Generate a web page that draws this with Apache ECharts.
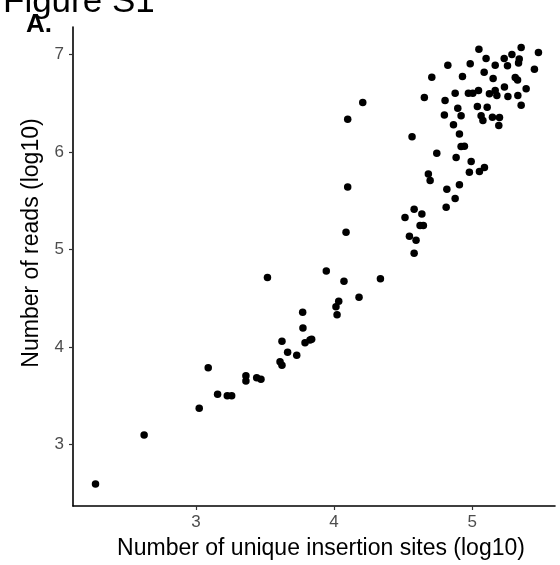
<!DOCTYPE html>
<html>
<head>
<meta charset="utf-8">
<script src="https://cdn.jsdelivr.net/npm/echarts@6/dist/echarts.min.js"></script>
<style>
html,body{margin:0;padding:0;background:#fff;}
#chart{width:560px;height:565px;}
</style>
</head>
<body>
<div id="chart"></div>
<script>
const xTicks = [3, 4, 5];
const yTicks = [3, 4, 5, 6, 7];
const xTitle = 'Number of unique insertion sites (log10)';
const yTitle = 'Number of reads (log10)';
const uniqueSitesLog10 = [2.273,2.625,3.024,3.089,3.157,3.227,3.259,3.362,3.362,3.440,3.471,3.518,3.609,3.623,3.623,3.664,3.730,3.773,3.775,3.790,3.826,3.838,3.944,4.014,4.022,4.034,4.072,4.181,4.336,4.087,4.099,4.099,4.208,4.514,4.546,4.580,4.594,4.580,4.636,4.623,4.647,4.565,4.683,4.696,4.744,4.812,4.817,4.877,4.908,4.980,5.053,5.089,4.993,4.884,4.920,4.944,4.908,4.865,4.799,4.920,4.896,4.804,4.654,4.708,4.824,4.930,4.986,4.877,4.973,5.005,5.046,5.038,5.065,5.078,5.109,5.125,5.167,5.179,5.147,5.198,5.193,5.087,5.152,5.049,5.101,5.167,5.232,5.288,5.256,5.234,5.259,5.331,5.355,5.336,5.341,5.355,5.312,5.329,5.391,5.451,5.480];
const readsLog10 = [2.595,3.097,3.371,3.788,3.515,3.501,3.501,3.706,3.651,3.685,3.669,4.713,3.849,3.812,4.058,3.946,3.915,4.356,4.195,4.044,4.072,4.079,4.779,4.413,4.331,4.469,4.674,4.510,4.700,5.176,5.641,6.335,6.506,5.326,5.135,5.412,5.094,4.961,5.364,5.244,5.244,6.154,5.774,5.706,5.987,5.433,5.617,5.521,5.662,5.792,5.798,5.839,5.901,5.942,6.054,6.058,6.182,6.277,6.379,6.369,6.448,6.526,6.557,6.766,6.889,6.772,6.903,6.602,6.602,6.602,6.629,6.465,6.369,6.321,6.458,6.595,6.629,6.577,6.356,6.352,6.270,6.817,6.752,7.053,6.957,6.889,6.957,6.998,6.882,6.664,6.567,6.577,6.479,6.910,6.951,7.070,6.762,6.738,6.646,6.848,7.018];

const points = uniqueSitesLog10.map((x, i) => [x, readsLog10[i]]);
const FONT = '"Liberation Sans", Arial, Helvetica, sans-serif';

const chart = echarts.init(document.getElementById('chart'), null, {renderer: 'canvas'});
chart.setOption({
  backgroundColor: '#ffffff',
  animation: false,
  grid: {left: 73, right: 5, top: 27, bottom: 59, containLabel: false},
  xAxis: {
    type: 'value', min: 2.11, max: 5.60,
    splitLine: {show: false},
    axisLine: {show: true, lineStyle: {color: '#000', width: 1.6}},
    axisTick: {show: true, length: 4, customValues: xTicks, lineStyle: {color: '#333', width: 1.2}},
    axisLabel: {customValues: xTicks, margin: 8, fontFamily: FONT, fontSize: 17, color: '#4d4d4d'}
  },
  yAxis: {
    type: 'value', min: 2.37, max: 7.28,
    splitLine: {show: false},
    axisLine: {show: true, lineStyle: {color: '#000', width: 1.6}},
    axisTick: {show: true, length: 4, customValues: yTicks, lineStyle: {color: '#333', width: 1.2}},
    axisLabel: {customValues: yTicks, margin: 9, fontFamily: FONT, fontSize: 17, color: '#4d4d4d'}
  },
  graphic: [
    {type: 'text', left: 3, top: -15, style: {text: 'Figure S1', font: '35px ' + FONT, fill: '#000'}},
    {type: 'text', left: 26, top: 12, style: {text: 'A.', font: 'bold 26px ' + FONT, fill: '#000'}},
    {type: 'text', x: 321, y: 549, style: {text: xTitle, font: '23px ' + FONT, fill: '#000', align: 'center', verticalAlign: 'middle'}},
    {type: 'text', x: 32, y: 243, rotation: Math.PI / 2, style: {text: yTitle, font: '23px ' + FONT, fill: '#000', align: 'center', verticalAlign: 'middle'}}
  ],
  series: [{
    type: 'scatter',
    data: points,
    symbol: 'circle',
    symbolSize: 7.5,
    itemStyle: {color: '#000', opacity: 1},
    emphasis: {disabled: true}
  }]
});
</script>
</body>
</html>
